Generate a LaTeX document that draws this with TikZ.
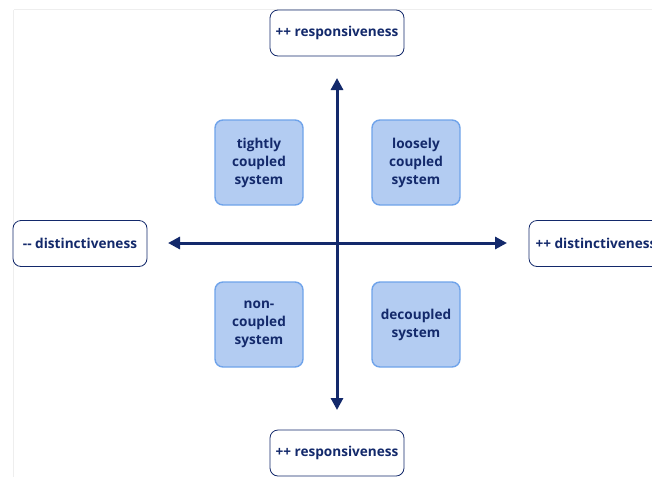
\documentclass[tikz,border=0pt]{standalone}
\usepackage{fontspec}
\setmainfont{Open Sans}
\usetikzlibrary{arrows.meta}
\definecolor{navy}{HTML}{13296B}
\definecolor{quadfill}{HTML}{B3CCF2}
\definecolor{quadedge}{HTML}{6FA3EA}
\definecolor{frameline}{HTML}{EEEEEE}
\tikzset{
  labelbox/.style={draw=navy, line width=0.8pt, rounded corners=8pt, fill=white,
    minimum width=134pt, minimum height=46pt, inner sep=0pt,
    font=\bfseries\fontsize{13.6}{15}\selectfont, text=navy},
  quadbox/.style={draw=quadedge, line width=1.4pt, rounded corners=8pt, fill=quadfill,
    minimum width=88pt, minimum height=85pt, inner sep=0pt, align=center,
    font=\bfseries\fontsize{13.6}{18}\selectfont, text=navy},
  axis/.style={draw=navy, line width=3pt, {Triangle[length=12pt,width=12pt]}-{Triangle[length=12pt,width=12pt]}},
}
\begin{document}
\begin{tikzpicture}[x=1pt,y=-1pt]
  \useasboundingbox (0,0) rectangle (652,477);
  \clip (0,0) rectangle (652,477);
  % faint frame edges
  \draw[frameline, line width=1pt] (13.5,9.5) -- (652,9.5);
  \draw[frameline, line width=1pt] (13.5,9.5) -- (13.5,477);

  % axis end points
  \coordinate (ytop) at (337,78);
  \coordinate (ybot) at (337,410);
  \coordinate (xleft) at (168,243);
  \coordinate (xright) at (507,243);
  \draw[axis] (ytop) -- (ybot);
  \draw[axis] (xleft) -- (xright);

  % axis labels
  \node[labelbox] (up) at (337,33) {++ responsiveness};
  \node[labelbox] (down) at (337,453) {++ responsiveness};
  \node[labelbox] (left) at (80,243.5) {-{}- distinctiveness};
  \node[labelbox] (right) at (596,243.5) {++ distinctiveness};

  % quadrants
  \node[quadbox] (tl) at (259,162.5) {tightly\\coupled\\system};
  \node[quadbox] (tr) at (416,162.5) {loosely\\coupled\\system};
  \node[quadbox] (bl) at (259,324.5) {non-\\coupled\\system};
  \node[quadbox] (br) at (416,324.5) {decoupled\\system};
\end{tikzpicture}
\end{document}
